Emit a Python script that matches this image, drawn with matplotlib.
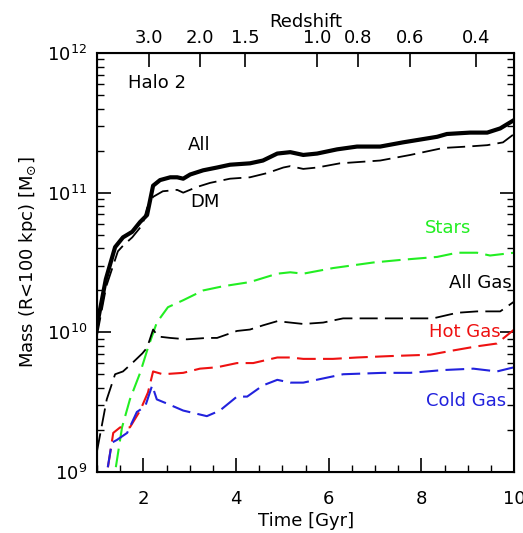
import numpy as np
import matplotlib
matplotlib.use("Agg")
import matplotlib.pyplot as plt
from matplotlib.ticker import FixedLocator, LogLocator, NullFormatter, MultipleLocator

# ---- data (log10 masses) ----
t_all = [1.0, 1.19, 1.39, 1.56, 1.76, 1.93, 2.08, 2.21, 2.36, 2.58, 2.73, 2.86, 3.01, 3.29, 3.59, 3.87,
         4.30, 4.58, 4.89, 5.17, 5.45, 5.75, 6.18, 6.61, 7.11, 7.60, 8.34, 8.55, 9.05, 9.42, 9.70, 10.0]
m_all = [10.05, 10.38, 10.61, 10.68, 10.72, 10.79, 10.84, 11.05, 11.09, 11.11, 11.11, 11.10, 11.13, 11.16, 11.18, 11.20,
         11.21, 11.23, 11.28, 11.29, 11.27, 11.28, 11.31, 11.33, 11.33, 11.36, 11.40, 11.42, 11.43, 11.43, 11.46, 11.52]

t_dm = [1.0, 1.2, 1.45, 1.56, 1.76, 1.98, 2.08, 2.21, 2.42, 2.73, 2.86, 3.15, 3.44, 3.87, 4.30, 4.67, 5.02, 5.17,
        5.45, 5.75, 6.24, 7.11, 7.76, 8.47, 8.99, 9.42, 9.76, 10.0]
m_dm = [9.98, 10.33, 10.58, 10.62, 10.68, 10.77, 10.89, 10.97, 11.01, 11.02, 11.00, 11.04, 11.07, 11.10, 11.11, 11.14, 11.18, 11.19,
        11.17, 11.18, 11.21, 11.23, 11.27, 11.32, 11.33, 11.34, 11.36, 11.42]

t_stars = [1.33, 1.39, 1.54, 1.71, 1.93, 2.10, 2.29, 2.53, 2.86, 3.29, 3.72, 4.30, 4.89, 5.17, 5.45, 6.09, 6.96,
           7.60, 8.34, 8.77, 9.20, 9.48, 10.0]
m_stars = [8.85, 9.0, 9.32, 9.52, 9.71, 9.89, 10.07, 10.18, 10.23, 10.30, 10.33, 10.36, 10.42, 10.43, 10.42, 10.46, 10.50,
           10.52, 10.54, 10.57, 10.57, 10.55, 10.57]

t_gas = [1.0, 1.21, 1.39, 1.56, 1.76, 1.98, 2.08, 2.21, 2.32, 2.58, 2.94, 3.37, 3.59, 4.02, 4.30, 4.58, 4.89, 5.17,
         5.45, 5.88, 6.31, 6.96, 7.54, 8.25, 8.77, 9.20, 9.70, 10.0]
m_gas = [9.15, 9.52, 9.70, 9.72, 9.78, 9.85, 9.89, 10.02, 9.97, 9.96, 9.95, 9.96, 9.96, 10.01, 10.02, 10.05, 10.08, 10.07,
         10.06, 10.07, 10.10, 10.10, 10.10, 10.10, 10.14, 10.15, 10.15, 10.22]

t_hot = [1.15, 1.35, 1.50, 1.71, 1.93, 2.10, 2.21, 2.42, 2.86, 3.22, 3.59, 4.02, 4.37, 4.89, 5.17, 5.45, 6.09, 6.61,
         7.32, 8.19, 8.68, 9.20, 9.63, 10.0]
m_hot = [8.85, 9.28, 9.32, 9.32, 9.44, 9.57, 9.72, 9.70, 9.71, 9.74, 9.75, 9.78, 9.78, 9.82, 9.82, 9.81, 9.81, 9.82,
         9.83, 9.84, 9.87, 9.90, 9.92, 10.02]

t_cold = [1.14, 1.32, 1.43, 1.65, 1.86, 2.04, 2.19, 2.29, 2.51, 2.86, 3.37, 3.65, 4.02, 4.24, 4.58, 4.89, 5.17, 5.45,
          6.31, 7.17, 7.76, 8.47, 9.12, 9.63, 10.0]
m_cold = [8.85, 9.21, 9.23, 9.28, 9.43, 9.47, 9.62, 9.52, 9.49, 9.44, 9.40, 9.44, 9.54, 9.54, 9.62, 9.66, 9.64, 9.64,
          9.70, 9.71, 9.71, 9.73, 9.74, 9.72, 9.75]

z_labels = ["3.0", "2.0", "1.5", "1.0", "0.8", "0.6", "0.4"]
z_values = [3.0, 2.0, 1.5, 1.0, 0.8, 0.6, 0.4]

# cosmic time for redshift (flat LCDM, H0=70, Om=0.3)
def age_gyr(z, H0=70.0, Om=0.3):
    OL = 1 - Om
    tH = 977.8 / H0
    return 2.0 / (3.0 * np.sqrt(OL)) * tH * np.arcsinh(np.sqrt(OL / Om) * (1 + np.asarray(z)) ** -1.5)

GREEN = "#22ee22"
RED = "#ee1111"
BLUE = "#2222dd"

plt.rcParams['font.family'] = ['DejaVu Sans']
fig = plt.figure(figsize=(5.23, 5.33), dpi=100)
ax = fig.add_axes([0.1855, 0.1144, 0.7975, 0.7862])

dash = (0, (10, 4))
dashc = (0, (9, 3.5))
ax.plot(t_all, 10 ** np.array(m_all), color="black", lw=3.0, solid_joinstyle="round")
ax.plot(t_dm, 10 ** np.array(m_dm), color="black", lw=1.3, linestyle=dash)
ax.plot(t_stars, 10 ** np.array(m_stars), color=GREEN, lw=1.5, linestyle=dashc)
ax.plot(t_gas, 10 ** np.array(m_gas), color="black", lw=1.3, linestyle=dash)
ax.plot(t_hot, 10 ** np.array(m_hot), color=RED, lw=1.5, linestyle=dashc)
ax.plot(t_cold, 10 ** np.array(m_cold), color=BLUE, lw=1.5, linestyle=dashc)

ax.set_yscale("log")
ax.set_xlim(1, 10)
ax.set_ylim(1e9, 1e12)

fs = 13
ax.xaxis.set_major_locator(FixedLocator([2, 4, 6, 8, 10]))
ax.xaxis.set_minor_locator(MultipleLocator(0.5))
ax.yaxis.set_major_locator(LogLocator(base=10, numticks=10))
ax.yaxis.set_minor_locator(LogLocator(base=10, subs=np.arange(2, 10), numticks=10))
ax.yaxis.set_minor_formatter(NullFormatter())
ax.tick_params(axis="both", which="major", direction="in", length=10, width=1.2, labelsize=fs,
               top=False, right=True, pad=7)
ax.tick_params(axis="x", which="major", pad=13)
ax.tick_params(axis="both", which="minor", direction="in", length=5, width=1.0, top=False, right=True)
ax.tick_params(axis="x", which="both", top=False)
for s in ax.spines.values():
    s.set_linewidth(1.5)

ax.set_xlabel("Time [Gyr]", fontsize=fs, labelpad=3)
ax.set_ylabel(r"Mass (R<100 kpc) [M$_{\odot}$]", fontsize=fs, labelpad=6)

ax2 = ax.twiny()
ax2.set_xlim(1, 10)
ax2.set_xticks(age_gyr(z_values))
ax2.set_xticklabels(z_labels)
ax2.xaxis.set_minor_locator(FixedLocator([]))
ax2.tick_params(axis="x", direction="in", length=10, width=1.2, labelsize=fs, pad=4)
ax2.set_xlabel("Redshift", fontsize=fs, labelpad=2)

ax.text(1.67, 10 ** 11.785, "Halo 2", fontsize=fs, va="center", ha="left")
ax.text(3.2, 10 ** 11.34, "All", fontsize=fs, va="center", ha="center")
ax.text(3.33, 10 ** 10.93, "DM", fontsize=fs, va="center", ha="center")
ax.text(8.58, 10 ** 10.75, "Stars", fontsize=fs, va="center", ha="center", color=GREEN)
ax.text(9.27, 10 ** 10.35, "All Gas", fontsize=fs, va="center", ha="center", color="black")
ax.text(8.94, 10 ** 10.0, "Hot Gas", fontsize=fs, va="center", ha="center", color=RED)
ax.text(8.96, 10 ** 9.51, "Cold Gas", fontsize=fs, va="center", ha="center", color=BLUE)

fig.savefig("out.png", dpi=100)
